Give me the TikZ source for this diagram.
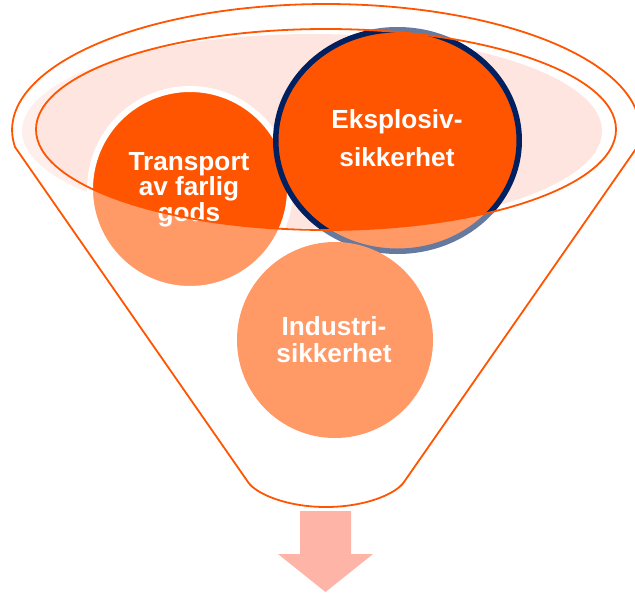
\documentclass[tikz,border=0pt]{standalone}
\usepackage{fontspec}
\setmainfont{Liberation Sans}
\usetikzlibrary{shapes.geometric}
\definecolor{dkorange}{HTML}{FF5500}
\definecolor{pinkfill}{HTML}{FFE5E0}
\definecolor{navyblue}{HTML}{002060}
\definecolor{arrowpink}{HTML}{FFB4A8}
\begin{document}
\begin{tikzpicture}[x=1pt,y=-1pt,
  lbl/.style={text=white,font=\fontsize{26.2}{26}\selectfont\bfseries,anchor=base,inner sep=0pt},
  outline/.style={draw=dkorange,line width=1.8pt},
  ball/.style={circle,fill=dkorange,inner sep=0pt,minimum size=200pt,draw=white,line width=6pt}]
\useasboundingbox (0,0) rectangle (635,595);
\def\funnelpath{(15,147) arc[start angle=172.25,end angle=367.75,x radius=314,y radius=126]
  -- (404,482) .. controls (396,494) and (365,507) .. (326,507)
  .. controls (287,507) and (256,494) .. (248,482) -- cycle}
% pink opening
\fill[pinkfill] (312,131) ellipse [x radius=290,y radius=97];
% balls
\node[ball] (transport) at (190,189) {};
\node[ellipse,fill=dkorange,draw=navyblue,line width=5.5pt,inner sep=0pt,
  minimum width=243.5pt,minimum height=221.5pt] (eksplosiv) at (397.5,140.5) {};
\node[ball,draw=none,minimum size=196pt] (industri) at (335,340) {};
% labels
\node[lbl] (t1a) at (189,170) {Transport};
\node[lbl] (t1b) at (189,195.5) {av farlig};
\node[lbl] (t1c) at (189,221.5) {gods};
\node[lbl] (t2a) at (397,128.3) {Eksplosiv-};
\node[lbl] (t2b) at (397,166.7) {sikkerhet};
\node[lbl] (t3a) at (334,335) {Industri-};
\node[lbl] (t3b) at (334,362.3) {sikkerhet};
% translucent funnel body
\fill[white,fill opacity=0.4,even odd rule] \funnelpath
  (326,129.5) ellipse [x radius=290,y radius=100.5];
% outlines
\draw[outline] \funnelpath;
\draw[outline] (326,129.5) ellipse [x radius=290,y radius=100.5];
% arrow
\fill[arrowpink] (300,511) -- (351,511) -- (351,554) -- (373,554) -- (325.5,592)
  -- (278,554) -- (300,554) -- cycle;
\end{tikzpicture}
\end{document}
